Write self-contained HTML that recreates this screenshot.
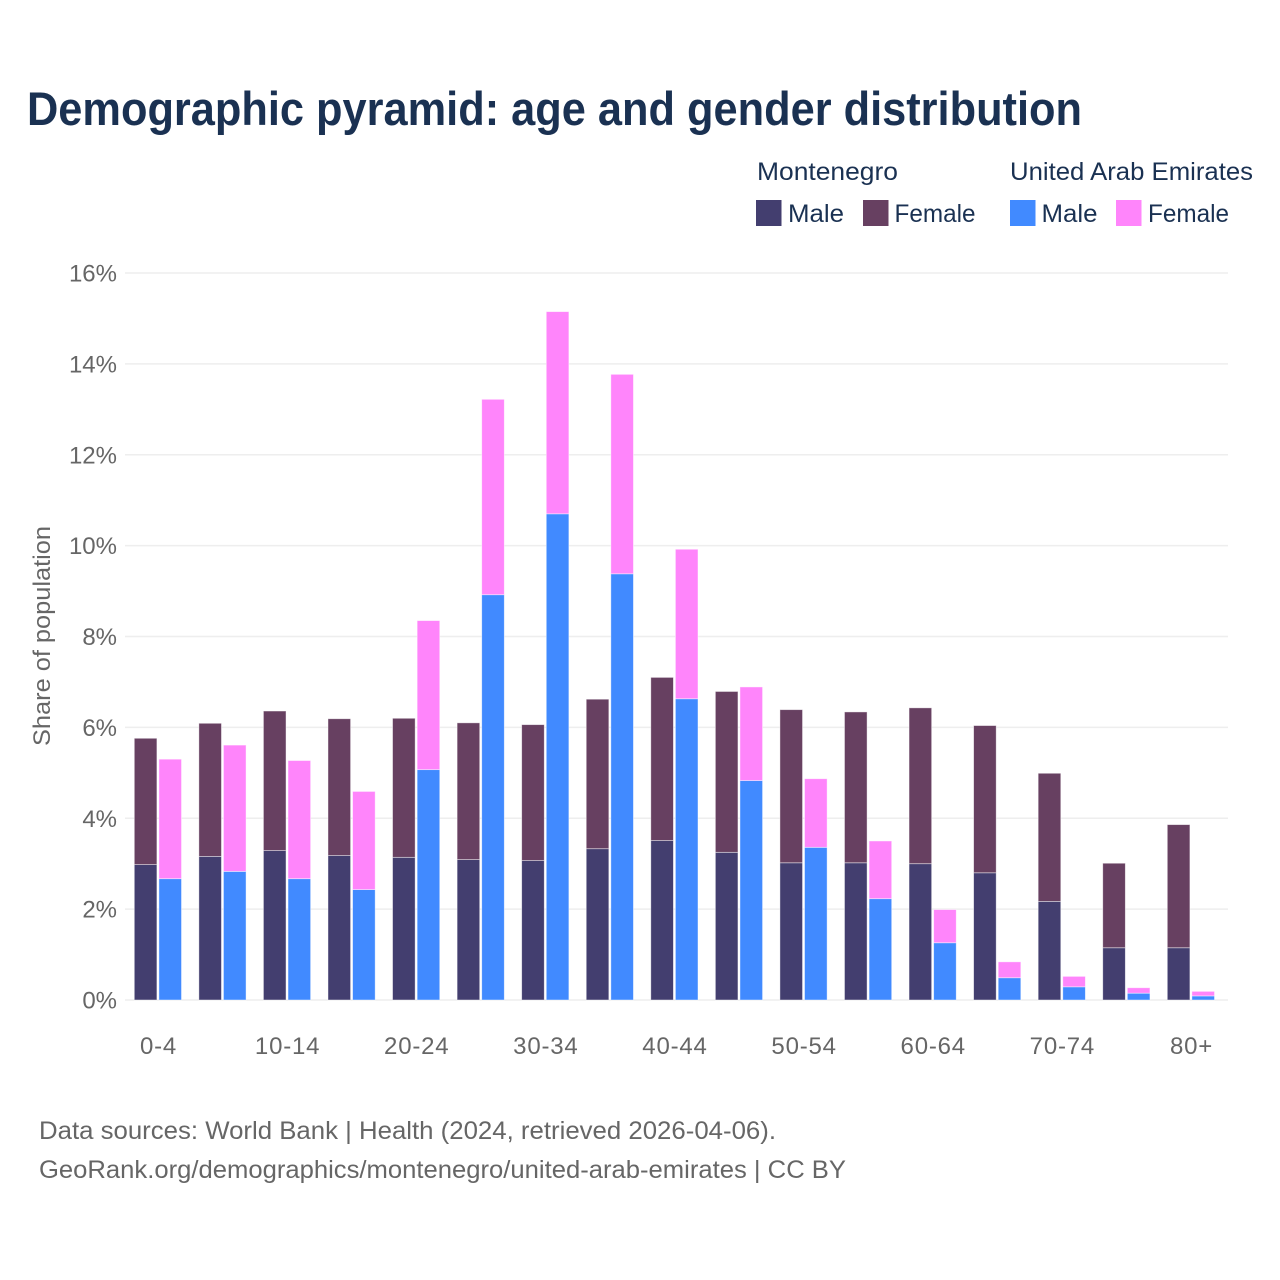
<!DOCTYPE html>
<html lang="en">
<head>
<meta charset="utf-8">
<title>Demographic pyramid: age and gender distribution</title>
<style>
html,body{margin:0;padding:0;background:#fff;}
svg{display:block;font-family:"Liberation Sans",sans-serif;}
</style>
</head>
<body>
<svg id="chart" width="1280" height="1280" viewBox="0 0 1280 1280" xmlns="http://www.w3.org/2000/svg">
  <rect x="0" y="0" width="1280" height="1280" fill="#ffffff"/>
  <text x="27" y="125" font-size="47" font-weight="700" fill="#1a3152" textLength="1055" lengthAdjust="spacingAndGlyphs">Demographic pyramid: age and gender distribution</text>

  <g font-size="25" fill="#1a3152">
    <text x="757" y="180" textLength="141" lengthAdjust="spacingAndGlyphs">Montenegro</text>
    <text x="1010" y="180" textLength="243" lengthAdjust="spacingAndGlyphs">United Arab Emirates</text>
    <rect x="756" y="200" width="25.5" height="26" fill="#433e6f"/>
    <text x="788" y="222" textLength="56" lengthAdjust="spacingAndGlyphs">Male</text>
    <rect x="863" y="200" width="25.5" height="26" fill="#674061"/>
    <text x="894.5" y="222" textLength="81" lengthAdjust="spacingAndGlyphs">Female</text>
    <rect x="1010" y="200" width="25.5" height="26" fill="#418aff"/>
    <text x="1041.5" y="222" textLength="56" lengthAdjust="spacingAndGlyphs">Male</text>
    <rect x="1116" y="200" width="25.5" height="26" fill="#ff85fb"/>
    <text x="1148" y="222" textLength="81" lengthAdjust="spacingAndGlyphs">Female</text>
  </g>

  <g id="grid"></g>
  <g id="bars"></g>
  <g id="yticks"></g>
  <g id="xticks"></g>

  <text transform="translate(50,636) rotate(-90)" text-anchor="middle" font-size="24" fill="#666666" textLength="220" lengthAdjust="spacingAndGlyphs">Share of population</text>

  <text x="39" y="1139" font-size="25" fill="#666666" textLength="737" lengthAdjust="spacingAndGlyphs">Data sources: World Bank | Health (2024, retrieved 2026-04-06).</text>
  <text x="39" y="1178" font-size="25" fill="#666666" textLength="807" lengthAdjust="spacingAndGlyphs">GeoRank.org/demographics/montenegro/united-arab-emirates | CC BY</text>
</svg>
<script>
const ageGroups = ["0-4","5-9","10-14","15-19","20-24","25-29","30-34","35-39","40-44","45-49","50-54","55-59","60-64","65-69","70-74","75-79","80+"];
const montenegroMale = [2.98,3.16,3.29,3.18,3.14,3.09,3.07,3.33,3.51,3.25,3.02,3.02,3.00,2.80,2.17,1.15,1.15];
const montenegroFemale = [2.78,2.93,3.07,3.01,3.06,3.01,2.99,3.29,3.59,3.54,3.37,3.32,3.43,3.24,2.82,1.86,2.71];
const uaeMale = [2.67,2.83,2.67,2.43,5.07,8.92,10.70,9.38,6.63,4.83,3.36,2.23,1.26,0.49,0.29,0.15,0.09];
const uaeFemale = [2.63,2.78,2.60,2.16,3.28,4.30,4.45,4.39,3.29,2.06,1.51,1.27,0.73,0.35,0.23,0.12,0.10];
const yTickValues = [0,2,4,6,8,10,12,14,16];
const xTickLabels = ["0-4","","10-14","","20-24","","30-34","","40-44","","50-54","","60-64","","70-74","","80+"];

const NS = "http://www.w3.org/2000/svg";
function yScale(v){ return 1000 - v * (727 / 16); }
function xCenter(i){ return 158 + i * (1033 / 16); }
function make(tag, attrs){
  const el = document.createElementNS(NS, tag);
  for (const k in attrs) el.setAttribute(k, attrs[k]);
  return el;
}

const grid = document.getElementById("grid");
const yticks = document.getElementById("yticks");
yTickValues.forEach(function(v){
  const line = make("line", {x1:125, x2:1228, y1:yScale(v), y2:yScale(v), stroke:"#eeeeee", "stroke-width":1.4});
  
  
  grid.appendChild(line);
  const t = make("text", {x:117, y:yScale(v)+8.5, "text-anchor":"end", "font-size":24, fill:"#666666"});
  t.textContent = v + "%";
  
  
  yticks.appendChild(t);
});

const xticks = document.getElementById("xticks");
xTickLabels.forEach(function(label, i){
  if (!label) return;
  const t = make("text", {x:xCenter(i)+0.5, y:1054, "text-anchor":"middle", "font-size":24, fill:"#666666", "letter-spacing":0.8});
  t.textContent = label;
  
  
  xticks.appendChild(t);
});

const bars = document.getElementById("bars");
function drawSegment(x, w, v0, v1, fill){
  const top = yScale(v1), bottom = yScale(v0);
  const r = make("rect", {x:x, y:top, width:w, height:bottom-top, fill:fill, stroke:"#ffffff", "stroke-opacity":0.55, "stroke-width":0.8});
  
  
  bars.appendChild(r);
}
ageGroups.forEach(function(age, i){
  const c = xCenter(i);
  drawSegment(c - 23.7, 22.6, 0, montenegroMale[i], "#433e6f");
  drawSegment(c - 23.7, 22.6, montenegroMale[i], montenegroMale[i] + montenegroFemale[i], "#674061");
  drawSegment(c + 0.9, 22.6, 0, uaeMale[i], "#418aff");
  drawSegment(c + 0.9, 22.6, uaeMale[i], uaeMale[i] + uaeFemale[i], "#ff85fb");
});
</script>
</body>
</html>
